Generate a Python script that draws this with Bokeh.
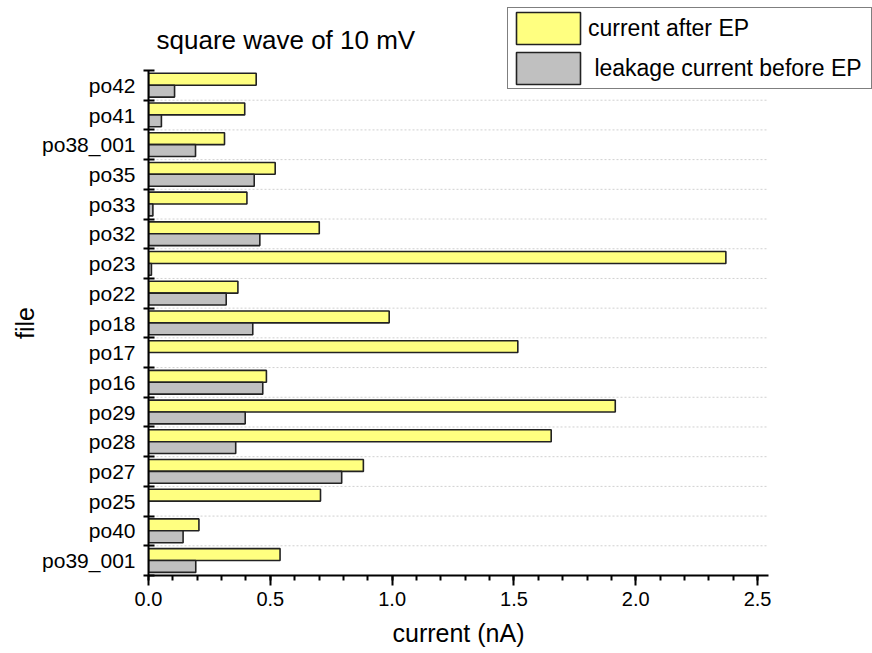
import numpy as np
from bokeh.plotting import figure
from bokeh.models import (ColumnDataSource, Range1d, FixedTicker, Legend, LegendItem,
                          Label, LinearAxis)
from bokeh.transform import dodge
from bokeh.embed import file_html
from bokeh.resources import INLINE

# categories, bottom to top
files = ["po39_001", "po40", "po25", "po27", "po28", "po29", "po16", "po17", "po18",
         "po22", "po23", "po32", "po33", "po35", "po38_001", "po41", "po42"]
after_ep = [0.54, 0.207, 0.706, 0.882, 1.653, 1.916, 0.484, 1.516, 0.988,
            0.367, 2.37, 0.701, 0.404, 0.52, 0.312, 0.395, 0.442]
leak_before = [0.194, 0.142, 0.0, 0.793, 0.358, 0.397, 0.469, 0.0, 0.428,
               0.319, 0.012, 0.457, 0.018, 0.434, 0.193, 0.053, 0.107]
x_tick_labels = ["0.0", "0.5", "1.0", "1.5", "2.0", "2.5"]
x_ticks = [0.0, 0.5, 1.0, 1.5, 2.0, 2.5]
series_labels = ["current after EP", " leakage current before EP"]
title_text = "square wave of 10 mV"
x_title = "current (nA)"
y_title = "file"

n = len(files)
pos = list(range(n))
source = ColumnDataSource(dict(pos=pos, file=files, after=after_ep, leak=leak_before))

FONT = "Liberation Sans"

# axis extent and page geometry (frame extended up/right so the legend can overhang)
X_AXIS_END = 2.545
W, H = 872, 653
LEFT, BOTTOM = 148, 78
AXIS_RIGHT_PX, AXIS_TOP_PX = 768, 70
frame_w = W - LEFT
frame_h = H - BOTTOM
x_end = X_AXIS_END * frame_w / (AXIS_RIGHT_PX - LEFT)
y_end = -0.5 + n * frame_h / (frame_h - AXIS_TOP_PX)

p = figure(width=W, height=H, output_backend="svg", toolbar_location=None,
           x_range=Range1d(0, x_end), y_range=Range1d(-0.5, y_end),
           min_border_left=LEFT, min_border_right=0, min_border_top=0,
           min_border_bottom=BOTTOM)
p.title.visible = False
p.outline_line_color = None
p.background_fill_color = "white"
p.border_fill_color = "white"
p.xgrid.visible = False
p.ygrid.visible = False

boundaries = [i - 0.5 for i in range(n + 1)]
inner = boundaries[1:-1]
p.segment(x0=[0] * len(inner), x1=[X_AXIS_END] * len(inner), y0=inner, y1=inner,
          line_color="#D0D0D0", line_dash="2 2", line_width=1)

r_after = p.hbar(y=dodge("pos", 0.205, range=p.y_range), right="after", left=0,
                 height=0.4, source=source, fill_color="#FFFF80",
                 line_color="#222222", line_width=1.6)
r_leak = p.hbar(y=dodge("pos", -0.195, range=p.y_range), right="leak", left=0,
                height=0.4, source=source, fill_color="#C0C0C0",
                line_color="#222222", line_width=1.6)

# title as a label inside the (extended) frame
p.add_layout(Label(x=8, y=frame_h - 39, x_units="screen", y_units="screen",
                   text=title_text, text_font=FONT, text_font_size="26px",
                   text_baseline="alphabetic", text_color="black"))


def style_line_axis(ax):
    ax.axis_line_width = 2
    ax.axis_line_color = "black"
    ax.major_tick_line_width = 2
    ax.minor_tick_line_width = 2
    ax.major_tick_line_color = "black"
    ax.minor_tick_line_color = "black"
    ax.major_label_text_font = FONT
    ax.major_label_text_color = "black"


# x axis
xa = p.xaxis[0]
style_line_axis(xa)
xa.bounds = (0, X_AXIS_END)
xa.ticker = FixedTicker(ticks=x_ticks, minor_ticks=list(np.round(np.arange(0, 2.55, 0.1), 2)))
xa.major_label_overrides = {t: l for t, l in zip(x_ticks, x_tick_labels)}
xa.major_label_text_font_size = "20px"
xa.major_label_standoff = 6
xa.major_tick_in = 0
xa.major_tick_out = 10
xa.minor_tick_in = 0
xa.minor_tick_out = 5

# y axis
ya = p.yaxis[0]
style_line_axis(ya)
ya.bounds = (-0.5, n - 0.5)
ya.ticker = FixedTicker(ticks=pos, minor_ticks=boundaries)
ya.major_label_overrides = {i: f for i, f in zip(pos, files)}
ya.major_label_text_font_size = "21px"
ya.major_label_standoff = 8
ya.major_tick_in = 0
ya.major_tick_out = 0
ya.minor_tick_in = 6
ya.minor_tick_out = 5


# axis titles, centred on the drawn axis extent (own label-only axes)
def title_axis(mid, text, standoff, orientation="horizontal"):
    ax = LinearAxis(ticker=FixedTicker(ticks=[mid], minor_ticks=[]),
                    major_label_overrides={mid: text})
    ax.axis_line_color = None
    ax.major_tick_line_color = None
    ax.minor_tick_line_color = None
    ax.major_tick_in = 0
    ax.major_tick_out = 0
    ax.minor_tick_in = 0
    ax.minor_tick_out = 0
    ax.major_label_text_font = FONT
    ax.major_label_text_font_size = "25px"
    ax.major_label_text_color = "black"
    ax.major_label_standoff = standoff
    ax.major_label_orientation = orientation
    return ax


x_mid = X_AXIS_END / 2
y_mid = (n - 1) // 2
p.add_layout(title_axis(x_mid, x_title, 10), "below")
p.add_layout(title_axis(y_mid, y_title, 1, "vertical"), "left")

# legend
legend = Legend(items=[LegendItem(label=series_labels[0], renderers=[r_after]),
                       LegendItem(label=series_labels[1], renderers=[r_leak])],
                location=(507 - LEFT, frame_h - 89), orientation="vertical")
legend.glyph_width = 80
legend.glyph_height = 40
legend.label_standoff = 0
legend.label_width = 283
legend.spacing = 0
legend.padding = 0
legend.margin = 0
legend.label_text_font = FONT
legend.label_text_font_size = "23px"
legend.label_text_color = "black"
legend.border_line_color = "black"
legend.border_line_width = 1
legend.background_fill_color = "white"
legend.background_fill_alpha = 1.0
p.add_layout(legend, "center")

open("out.html", "w").write(file_html(p, INLINE))
